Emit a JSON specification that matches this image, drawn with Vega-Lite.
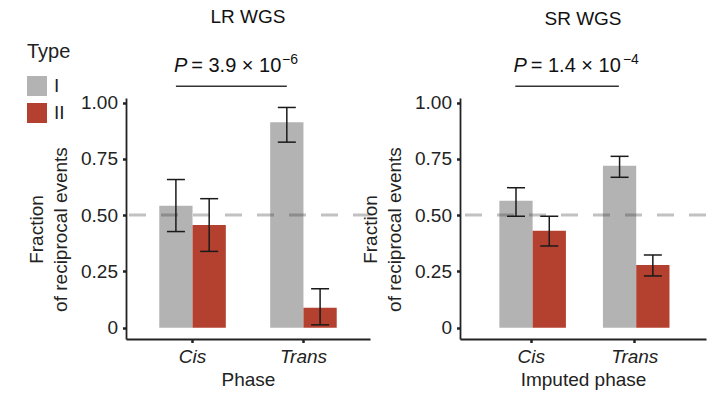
{
  "$schema": "https://vega.github.io/schema/vega-lite/v6.json",
  "padding": {"left": 27, "top": 8, "right": 0, "bottom": 0},
  "bounds": "flush",
  "spacing": 90,
  "resolve": {"scale": {"color": "independent"}},
  "config": {
    "font": "Liberation Sans",
    "view": {"stroke": null},
    "axis": {
      "domainColor": "#222", "domainWidth": 1.8,
      "tickColor": "#222", "tickWidth": 2.5, "tickSize": 3.5,
      "labelColor": "#222", "labelFontSize": 19,
      "titleFontSize": 19, "titleFontWeight": "normal", "titleColor": "#222",
      "grid": false
    },
    "title": {"fontSize": 19, "fontWeight": "normal", "color": "#111"}
  },
  "datasets": {
    "lr": [
      {"phase": "Cis", "type": "I", "value": 0.542, "lo": 0.427, "hi": 0.658},
      {"phase": "Cis", "type": "II", "value": 0.456, "lo": 0.339, "hi": 0.573},
      {"phase": "Trans", "type": "I", "value": 0.912, "lo": 0.824, "hi": 0.978},
      {"phase": "Trans", "type": "II", "value": 0.089, "lo": 0.013, "hi": 0.173}
    ],
    "sr": [
      {"phase": "Cis", "type": "I", "value": 0.564, "lo": 0.495, "hi": 0.622},
      {"phase": "Cis", "type": "II", "value": 0.431, "lo": 0.363, "hi": 0.495},
      {"phase": "Trans", "type": "I", "value": 0.719, "lo": 0.668, "hi": 0.761},
      {"phase": "Trans", "type": "II", "value": 0.279, "lo": 0.23, "hi": 0.323}
    ],
    "lrp": [{"phase": "Cis", "y": 1.135, "ye": 1.173, "p": "P", "rest": "= 3.9 × 10", "exp": "−6"}],
    "srp": [{"phase": "Cis", "y": 1.135, "ye": 1.173, "p": "P", "rest": "= 1.4 × 10", "exp": "−4"}]
  },
  "hconcat": [
    {
      "width": 244, "height": 241,
      "title": {"text": "LR WGS", "offset": 15},
      "layer": [
        {
          "data": {"name": "lr"},
          "mark": {"type": "bar"},
          "encoding": {
            "x": {"field": "phase", "type": "nominal", "scale": {"paddingInner": 0.4, "paddingOuter": 0.3},
                  "axis": {"title": "Phase", "labelAngle": 0, "labelFontStyle": "italic", "labelPadding": 5, "titlePadding": 4}},
            "xOffset": {"field": "type", "type": "nominal", "scale": {"paddingInner": 0, "paddingOuter": 0}},
            "y": {"field": "value", "type": "quantitative", "scale": {"domain": [-0.05, 1.02], "nice": false, "zero": false},
                  "axis": {"title": ["Fraction", "of reciprocal events"], "values": [0, 0.25, 0.5, 0.75, 1],
                           "labelExpr": "datum.value == 0 ? '0' : format(datum.value, '.2f')",
                           "labelPadding": 5, "titlePadding": 10, "titleLineHeight": 24, "titleY": 131}},
            "y2": {"datum": 0},
            "color": {"field": "type", "type": "nominal", "scale": {"domain": ["I", "II"], "range": ["#b3b3b3", "#b4412f"]},
                      "legend": {"title": "Type", "orient": "none", "legendX": -99, "legendY": -56, "symbolType": "square",
                                 "symbolSize": 400, "symbolStrokeWidth": 0, "symbolOpacity": 1, "titleFontSize": 20, "titleFontWeight": "normal",
                                 "titleColor": "#222", "labelFontSize": 19, "labelColor": "#222", "labelOffset": 7, "rowPadding": 7, "titlePadding": 14}}
          }
        },
        {
          "data": {"values": [{"ref": 0.5}]},
          "mark": {"type": "rule", "strokeDash": [17, 15], "strokeWidth": 3, "color": "#333", "opacity": 0.3},
          "encoding": {"y": {"field": "ref", "type": "quantitative"}}
        },
        {
          "data": {"name": "lr"},
          "mark": {"type": "rule", "color": "#1a1a1a", "strokeWidth": 1.5},
          "encoding": {
            "x": {"field": "phase", "type": "nominal"},
            "xOffset": {"field": "type", "type": "nominal"},
            "y": {"field": "lo", "type": "quantitative"},
            "y2": {"field": "hi"}
          }
        },
        {
          "data": {"name": "lr"},
          "mark": {"type": "tick", "orient": "horizontal", "color": "#1a1a1a", "thickness": 1.5, "size": 18, "opacity": 1},
          "encoding": {
            "x": {"field": "phase", "type": "nominal"},
            "xOffset": {"field": "type", "type": "nominal"},
            "y": {"field": "lo", "type": "quantitative"}
          }
        },
        {
          "data": {"name": "lr"},
          "mark": {"type": "tick", "orient": "horizontal", "color": "#1a1a1a", "thickness": 1.5, "size": 18, "opacity": 1},
          "encoding": {
            "x": {"field": "phase", "type": "nominal"},
            "xOffset": {"field": "type", "type": "nominal"},
            "y": {"field": "hi", "type": "quantitative"}
          }
        },
        {
          "data": {"values": [{"phase": "Cis", "y": 1.072}, {"phase": "Trans", "y": 1.072}]},
          "mark": {"type": "line", "color": "#333", "strokeWidth": 1.5, "clip": false},
          "encoding": {
            "x": {"field": "phase", "type": "nominal", "bandPosition": 0.25},
            "y": {"field": "y", "type": "quantitative"}
          }
        },
        {
          "data": {"name": "lrp"},
          "mark": {"type": "text", "align": "right", "baseline": "alphabetic", "fontStyle": "italic", "fontSize": 20, "color": "#111", "clip": false},
          "encoding": {
            "x": {"field": "phase", "type": "nominal", "bandPosition": 0.42},
            "y": {"field": "y", "type": "quantitative"},
            "text": {"field": "p"}
          }
        },
        {
          "data": {"name": "lrp"},
          "mark": {"type": "text", "align": "left", "baseline": "alphabetic", "fontSize": 20, "dx": 4, "color": "#111", "clip": false},
          "encoding": {
            "x": {"field": "phase", "type": "nominal", "bandPosition": 0.42},
            "y": {"field": "y", "type": "quantitative"},
            "text": {"field": "rest"}
          }
        },
        {
          "data": {"name": "lrp"},
          "mark": {"type": "text", "align": "left", "baseline": "alphabetic", "fontSize": 14, "color": "#111", "clip": false},
          "encoding": {
            "x": {"field": "phase", "type": "nominal", "bandPosition": 1.845},
            "y": {"field": "ye", "type": "quantitative"},
            "text": {"field": "exp"}
          }
        }
      ]
    },
    {
      "width": 246, "height": 241,
      "title": {"text": "SR WGS", "offset": 24},
      "layer": [
        {
          "data": {"name": "sr"},
          "mark": {"type": "bar"},
          "encoding": {
            "x": {"field": "phase", "type": "nominal", "scale": {"paddingInner": 0.385, "paddingOuter": 0.38},
                  "axis": {"title": "Imputed phase", "labelAngle": 0, "labelFontStyle": "italic", "labelPadding": 5, "titlePadding": 4}},
            "xOffset": {"field": "type", "type": "nominal", "scale": {"paddingInner": 0, "paddingOuter": 0}},
            "y": {"field": "value", "type": "quantitative", "scale": {"domain": [-0.05, 1.02], "nice": false, "zero": false},
                  "axis": {"title": ["Fraction", "of reciprocal events"], "values": [0, 0.25, 0.5, 0.75, 1],
                           "labelExpr": "datum.value == 0 ? '0' : format(datum.value, '.2f')",
                           "labelPadding": 5, "titlePadding": 10, "titleLineHeight": 24, "titleY": 131}},
            "y2": {"datum": 0},
            "color": {"field": "type", "type": "nominal", "scale": {"domain": ["I", "II"], "range": ["#b3b3b3", "#b4412f"]}, "legend": null}
          }
        },
        {
          "data": {"values": [{"ref": 0.5}]},
          "mark": {"type": "rule", "strokeDash": [17, 15], "strokeWidth": 3, "color": "#333", "opacity": 0.3},
          "encoding": {"y": {"field": "ref", "type": "quantitative"}}
        },
        {
          "data": {"name": "sr"},
          "mark": {"type": "rule", "color": "#1a1a1a", "strokeWidth": 1.5},
          "encoding": {
            "x": {"field": "phase", "type": "nominal"},
            "xOffset": {"field": "type", "type": "nominal"},
            "y": {"field": "lo", "type": "quantitative"},
            "y2": {"field": "hi"}
          }
        },
        {
          "data": {"name": "sr"},
          "mark": {"type": "tick", "orient": "horizontal", "color": "#1a1a1a", "thickness": 1.5, "size": 18, "opacity": 1},
          "encoding": {
            "x": {"field": "phase", "type": "nominal"},
            "xOffset": {"field": "type", "type": "nominal"},
            "y": {"field": "lo", "type": "quantitative"}
          }
        },
        {
          "data": {"name": "sr"},
          "mark": {"type": "tick", "orient": "horizontal", "color": "#1a1a1a", "thickness": 1.5, "size": 18, "opacity": 1},
          "encoding": {
            "x": {"field": "phase", "type": "nominal"},
            "xOffset": {"field": "type", "type": "nominal"},
            "y": {"field": "hi", "type": "quantitative"}
          }
        },
        {
          "data": {"values": [{"phase": "Cis", "y": 1.072}, {"phase": "Trans", "y": 1.072}]},
          "mark": {"type": "line", "color": "#333", "strokeWidth": 1.5, "clip": false},
          "encoding": {
            "x": {"field": "phase", "type": "nominal", "bandPosition": 0.25},
            "y": {"field": "y", "type": "quantitative"}
          }
        },
        {
          "data": {"name": "srp"},
          "mark": {"type": "text", "align": "right", "baseline": "alphabetic", "fontStyle": "italic", "fontSize": 20, "color": "#111", "clip": false},
          "encoding": {
            "x": {"field": "phase", "type": "nominal", "bandPosition": 0.43},
            "y": {"field": "y", "type": "quantitative"},
            "text": {"field": "p"}
          }
        },
        {
          "data": {"name": "srp"},
          "mark": {"type": "text", "align": "left", "baseline": "alphabetic", "fontSize": 20, "dx": 4, "color": "#111", "clip": false},
          "encoding": {
            "x": {"field": "phase", "type": "nominal", "bandPosition": 0.43},
            "y": {"field": "y", "type": "quantitative"},
            "text": {"field": "rest"}
          }
        },
        {
          "data": {"name": "srp"},
          "mark": {"type": "text", "align": "left", "baseline": "alphabetic", "fontSize": 14, "color": "#111", "clip": false},
          "encoding": {
            "x": {"field": "phase", "type": "nominal", "bandPosition": 1.94},
            "y": {"field": "ye", "type": "quantitative"},
            "text": {"field": "exp"}
          }
        }
      ]
    }
  ]
}
